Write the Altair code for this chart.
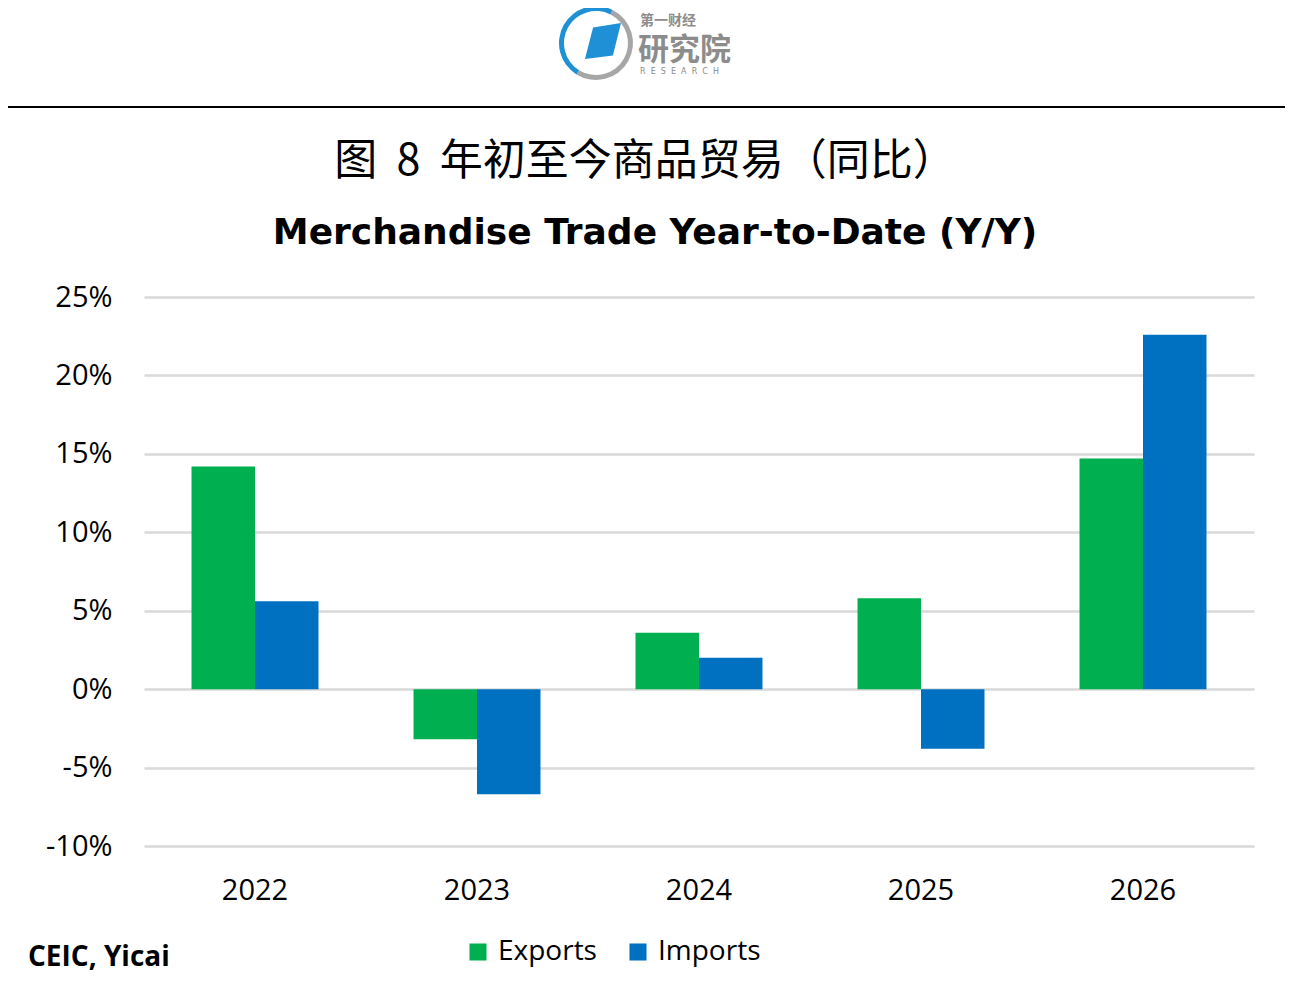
import altair as alt
import pandas as pd

years = ["2022", "2023", "2024", "2025", "2026"]
exports = [14.2, -3.2, 3.6, 5.8, 14.7]
imports = [5.6, -6.7, 2.0, -3.8, 22.6]
series_names = ["Exports", "Imports"]
series_colors = ["#00B050", "#0070C0"]
y_ticks = [-10, -5, 0, 5, 10, 15, 20, 25]

NB = "\u00a0"
title_cn = "图" + NB * 2 + "8" + NB * 2 + "年初至今商品贸易（同比）"
title_en = "Merchandise Trade Year-to-Date (Y/Y)"
source = "CEIC, Yicai"

rows = []
for i, y in enumerate(years):
    rows.append({"year": y, "series": "Exports", "value": exports[i]})
    rows.append({"year": y, "series": "Imports", "value": imports[i]})
df = pd.DataFrame(rows)

W, H = 1110, 549
LABEL_FONT = "Open Sans, sans-serif"

bars = alt.Chart(df).mark_bar().encode(
    x=alt.X("year:N", sort=years,
            scale=alt.Scale(paddingInner=0.428, paddingOuter=0.214),
            axis=alt.Axis(title=None, labelFontSize=29, labelFont=LABEL_FONT,
                          labelColor="#000000", labelPadding=30, domain=False,
                          ticks=False, labelAngle=0, grid=False)),
    xOffset=alt.XOffset("series:N", sort=series_names),
    y=alt.Y("value:Q",
            scale=alt.Scale(domain=[-10, 25], nice=False, zero=False),
            axis=alt.Axis(title=None, values=y_ticks, labelExpr="datum.value + '%'",
                          labelFontSize=29, labelFont=LABEL_FONT, labelColor="#000000",
                          labelPadding=32, domain=False, ticks=False,
                          grid=True, gridColor="#d9d9d9", gridWidth=2.5)),
    color=alt.Color("series:N", sort=series_names,
                    scale=alt.Scale(domain=series_names, range=series_colors),
                    legend=alt.Legend(title=None, orient="none", legendX=320, legendY=641,
                                      direction="horizontal", symbolType="square",
                                      symbolSize=290, symbolStrokeWidth=0,
                                      labelFontSize=28, labelFont=LABEL_FONT,
                                      labelColor="#000000", columnPadding=27,
                                      labelOffset=6)),
)

one = pd.DataFrame({"k": [0]})
base = alt.Chart(one)

def txt(text, x, y, size, weight="normal", font="Noto Sans CJK SC", color="#000000",
        align="center", baseline="alphabetic"):
    return base.mark_text(text=text, fontSize=size, fontWeight=weight, font=font,
                          color=color, align=align, baseline=baseline).encode(
        x=alt.value(x), y=alt.value(y))

ox, oy = 144, 297  # page position of plot origin

t_cn = txt(title_cn, 645 - ox, 175 - oy, 43, font="Noto Sans CJK SC")
t_en = txt(title_en, 655 - ox, 244 - oy, 36, weight="bold", font="DejaVu Sans")
t_src = txt(source, 28 - ox, 966 - oy, 28, weight="bold", font=LABEL_FONT, align="left")

hline = base.mark_rule(color="#000000", strokeWidth=2).encode(
    x=alt.value(0 - ox), x2=alt.value(1293 - ox), y=alt.value(107 - oy))

# logo
ring_blue = base.mark_arc(color="#1F8FD6").encode(
    x=alt.value(596 - ox), y=alt.value(43 - oy),
    theta=alt.value(3.7), theta2=alt.value(6.75),
    radius=alt.value(37), radius2=alt.value(32))
ring_gray = base.mark_arc(color="#A6A6A6").encode(
    x=alt.value(596 - ox), y=alt.value(43 - oy),
    theta=alt.value(0.47), theta2=alt.value(3.7),
    radius=alt.value(37), radius2=alt.value(32))
para = base.mark_point(filled=True, opacity=1, color="#1F8FD6",
                       shape="M -0.55 -0.75 L 1 -1 L 0.55 0.8 L -1 1 Z").encode(
    x=alt.value(603 - ox), y=alt.value(41 - oy), size=alt.value(1300))
logo1 = txt("第一财经", 640 - ox, 25 - oy, 14, weight="bold", color="#8C8C8C", align="left")
logo2 = txt("研究院", 638 - ox, 60 - oy, 31, weight="bold", color="#8C8C8C", align="left")
logo3 = txt((NB * 2).join("RESEARCH"), 640 - ox, 74 - oy, 8, font="DejaVu Sans",
            color="#8C8C8C", align="left")

chart = alt.layer(
    bars, hline, ring_gray, ring_blue, para, logo1, logo2, logo3, t_cn, t_en, t_src
).resolve_scale(x="independent", y="independent").properties(
    width=W, height=H,
    background="#ffffff",
    autosize=alt.AutoSizeParams(type="none"),
    padding={"left": 136, "top": 289, "right": 31, "bottom": 127},
).configure_view(strokeWidth=0, stroke="transparent")

chart.save("out.html", embed_options={"renderer": "svg", "actions": False})
